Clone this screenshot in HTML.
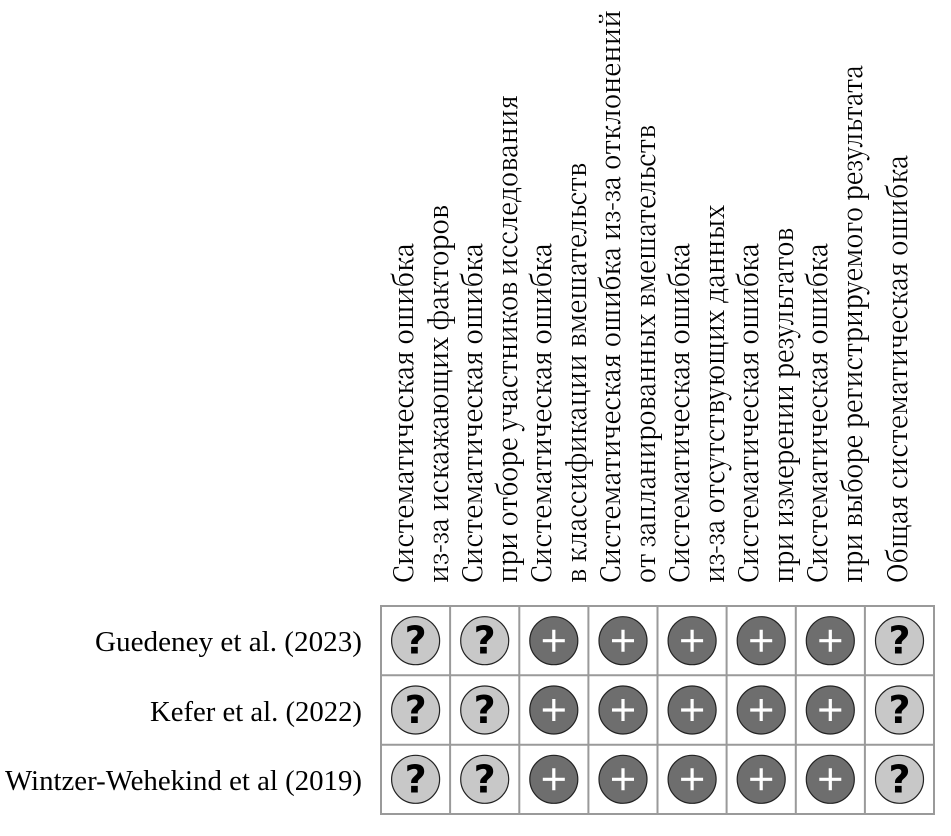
<!DOCTYPE html>
<html><head><meta charset="utf-8"><style>html,body{margin:0;padding:0;background:#fff}
.h{font-family:"Noto Serif CJK SC","Liberation Serif","DejaVu Serif",serif}</style></head>
<body>
<svg width="951" height="831" viewBox="0 0 951 831" xmlns="http://www.w3.org/2000/svg" style="font-family:'Liberation Serif','DejaVu Serif',serif" font-size="28" fill="#000">
<g class="h" font-size="27">
<text transform="translate(413,583) rotate(-90)" textLength="340" lengthAdjust="spacingAndGlyphs">Систематическая ошибка</text>
<text transform="translate(448,583) rotate(-90)" textLength="378" lengthAdjust="spacingAndGlyphs">из-за искажающих факторов</text>
<text transform="translate(482,583) rotate(-90)" textLength="340" lengthAdjust="spacingAndGlyphs">Систематическая ошибка</text>
<text transform="translate(517,583) rotate(-90)" textLength="488" lengthAdjust="spacingAndGlyphs">при отборе участников исследования</text>
<text transform="translate(551,583) rotate(-90)" textLength="340" lengthAdjust="spacingAndGlyphs">Систематическая ошибка</text>
<text transform="translate(586,583) rotate(-90)" textLength="420" lengthAdjust="spacingAndGlyphs">в классификации вмешательств</text>
<text transform="translate(620,583) rotate(-90)" textLength="573" lengthAdjust="spacingAndGlyphs">Систематическая ошибка из-за отклонений</text>
<text transform="translate(655,583) rotate(-90)" textLength="458" lengthAdjust="spacingAndGlyphs">от запланированных вмешательств</text>
<text transform="translate(689,583) rotate(-90)" textLength="340" lengthAdjust="spacingAndGlyphs">Систематическая ошибка</text>
<text transform="translate(724,583) rotate(-90)" textLength="378" lengthAdjust="spacingAndGlyphs">из-за отсутствующих данных</text>
<text transform="translate(758,583) rotate(-90)" textLength="340" lengthAdjust="spacingAndGlyphs">Систематическая ошибка</text>
<text transform="translate(793,583) rotate(-90)" textLength="355" lengthAdjust="spacingAndGlyphs">при измерении результатов</text>
<text transform="translate(827,583) rotate(-90)" textLength="340" lengthAdjust="spacingAndGlyphs">Систематическая ошибка</text>
<text transform="translate(862,583) rotate(-90)" textLength="518" lengthAdjust="spacingAndGlyphs">при выборе регистрируемого результата</text>
<text transform="translate(907,583) rotate(-90)" textLength="428" lengthAdjust="spacingAndGlyphs">Общая систематическая ошибка</text>
</g>
<text x="362" y="651" text-anchor="end" textLength="267" lengthAdjust="spacingAndGlyphs">Guedeney et al. (2023)</text>
<text x="362" y="721" text-anchor="end" textLength="212" lengthAdjust="spacingAndGlyphs">Kefer et al. (2022)</text>
<text x="362" y="790" text-anchor="end" textLength="357" lengthAdjust="spacingAndGlyphs">Wintzer-Wehekind et al (2019)</text>
<g stroke="#9a9a9a" stroke-width="2" fill="none">
<rect x="381" y="606" width="553" height="208"/>
<line x1="381" y1="675.3" x2="934" y2="675.3"/>
<line x1="381" y1="744.7" x2="934" y2="744.7"/>
<line x1="450.1" y1="606" x2="450.1" y2="814"/>
<line x1="519.3" y1="606" x2="519.3" y2="814"/>
<line x1="588.4" y1="606" x2="588.4" y2="814"/>
<line x1="657.5" y1="606" x2="657.5" y2="814"/>
<line x1="726.6" y1="606" x2="726.6" y2="814"/>
<line x1="795.8" y1="606" x2="795.8" y2="814"/>
<line x1="864.9" y1="606" x2="864.9" y2="814"/>
</g>
<defs>
<g id="q"><circle r="24" fill="#c8c8c8" stroke="#222" stroke-width="1.2"/><text y="13" text-anchor="middle" style="font-family:'DejaVu Sans',sans-serif" font-weight="bold" font-size="38">?</text></g>
<g id="p"><circle r="24" fill="#6e6e6e" stroke="#222" stroke-width="1.2"/><path d="M-11 0H11M0 -11V11" stroke="#fff" stroke-width="3.2"/></g>
</defs>
<g>
<use href="#q" x="415.6" y="640.7"/><use href="#q" x="484.7" y="640.7"/><use href="#p" x="553.8" y="640.7"/><use href="#p" x="623" y="640.7"/><use href="#p" x="692.1" y="640.7"/><use href="#p" x="761.2" y="640.7"/><use href="#p" x="830.3" y="640.7"/><use href="#q" x="899.5" y="640.7"/>
<use href="#q" x="415.6" y="710"/><use href="#q" x="484.7" y="710"/><use href="#p" x="553.8" y="710"/><use href="#p" x="623" y="710"/><use href="#p" x="692.1" y="710"/><use href="#p" x="761.2" y="710"/><use href="#p" x="830.3" y="710"/><use href="#q" x="899.5" y="710"/>
<use href="#q" x="415.6" y="779.3"/><use href="#q" x="484.7" y="779.3"/><use href="#p" x="553.8" y="779.3"/><use href="#p" x="623" y="779.3"/><use href="#p" x="692.1" y="779.3"/><use href="#p" x="761.2" y="779.3"/><use href="#p" x="830.3" y="779.3"/><use href="#q" x="899.5" y="779.3"/>
</g>
</svg>
</body></html>
